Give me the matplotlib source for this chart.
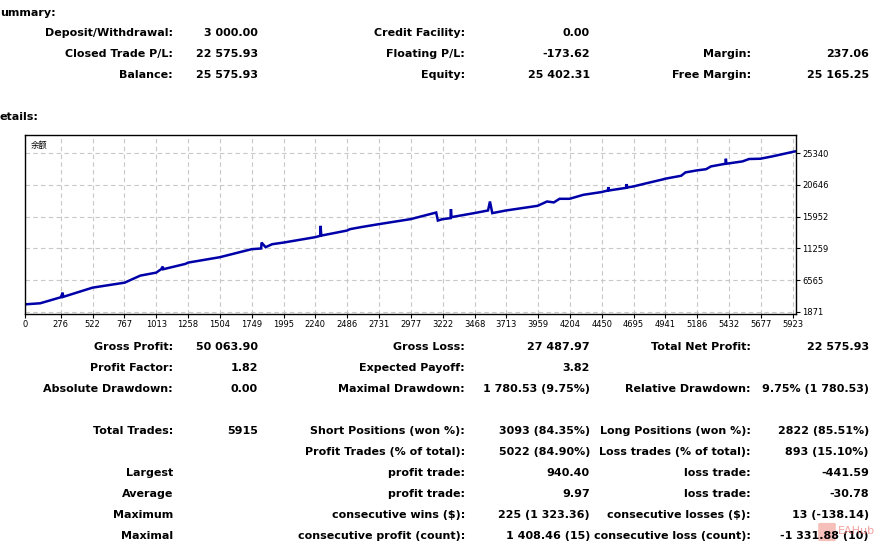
import matplotlib
matplotlib.use("Agg")
import matplotlib.pyplot as plt
from matplotlib.patches import FancyBboxPatch

W, H = 895, 544

# ── Report values ─────────────────────────────────────────────────────────────
summary_rows = [
    ["Deposit/Withdrawal:", "3 000.00", "Credit Facility:", "0.00", "", ""],
    ["Closed Trade P/L:", "22 575.93", "Floating P/L:", "-173.62", "Margin:", "237.06"],
    ["Balance:", "25 575.93", "Equity:", "25 402.31", "Free Margin:", "25 165.25"],
]
summary_y = [33, 54, 75]

detail_rows = [
    ["Gross Profit:", "50 063.90", "Gross Loss:", "27 487.97", "Total Net Profit:", "22 575.93"],
    ["Profit Factor:", "1.82", "Expected Payoff:", "3.82", "", ""],
    ["Absolute Drawdown:", "0.00", "Maximal Drawdown:", "1 780.53 (9.75%)",
     "Relative Drawdown:", "9.75% (1 780.53)"],
    ["Total Trades:", "5915", "Short Positions (won %):", "3093 (84.35%)",
     "Long Positions (won %):", "2822 (85.51%)"],
    ["", "", "Profit Trades (% of total):", "5022 (84.90%)",
     "Loss trades (% of total):", "893 (15.10%)"],
    ["Largest", "", "profit trade:", "940.40", "loss trade:", "-441.59"],
    ["Average", "", "profit trade:", "9.97", "loss trade:", "-30.78"],
    ["Maximum", "", "consecutive wins ($):", "225 (1 323.36)",
     "consecutive losses ($):", "13 (-138.14)"],
    ["Maximal", "", "consecutive profit (count):", "1 408.46 (15)",
     "consecutive loss (count):", "-1 331.88 (10)"],
]
detail_y = [347, 368, 389, 431, 452, 473, 494, 515, 536]

# balance curve (trade number, balance)
trades = [0, 117, 276, 291, 294, 521, 769, 889, 1012, 1050, 1063, 1066, 1237, 1258,
          1503, 1748, 1822, 1825, 1856, 1907, 1994, 2239, 2277, 2280, 2286, 2484,
          2507, 2592, 2730, 2975, 3172, 3185, 3222, 3283, 3286, 3290, 3465, 3572,
          3587, 3605, 3710, 3955, 4027, 4080, 4124, 4201, 4308, 4446, 4497, 4500,
          4504, 4638, 4641, 4645, 4692, 4820, 4922, 4937, 5062, 5095, 5182, 5254,
          5292, 5404, 5407, 5411, 5535, 5586, 5673, 5765, 5939]
balance = [3000, 3157, 4045, 4725, 4100, 5465, 6204, 7239, 7683, 8185, 8570, 8185, 8969, 9162,
           9960, 11143, 11250, 12119, 11439, 11882, 12119, 12917, 13110, 14589, 13150, 13894,
           14100, 14400, 14840, 15580, 16556, 15373, 15580, 15727, 17058, 15875, 16467, 16856,
           18183, 16467, 16856, 17546, 18183, 18050, 18582, 18582, 19173, 19572, 19808, 20311,
           19808, 20200, 20755, 20250, 20400, 20992, 21450, 21539, 21983, 22476, 22772, 22950,
           23363, 23758, 24497, 23758, 24102, 24457, 24497, 24842, 25576]

x_ticks = [0, 276, 522, 767, 1013, 1258, 1504, 1749, 1995, 2240, 2486, 2731, 2977,
           3222, 3468, 3713, 3959, 4204, 4450, 4695, 4941, 5186, 5432, 5677, 5923]
y_ticks = [1871, 6565, 11259, 15952, 20646, 25340]

# ── Figure ────────────────────────────────────────────────────────────────────
fig = plt.figure(figsize=(W / 100, H / 100), dpi=100)
fig.patch.set_facecolor("white")


def put(x, y, s, ha="right", size=8, weight="bold", **kw):
    fig.text(x / W, 1 - y / H, s, ha=ha, va="center", fontsize=size,
             fontweight=weight, family="DejaVu Sans", color="#000000", **kw)


def table(rows, ys):
    right_edges = [173, 258, 465, 590, 751, 869]
    for row, y in zip(rows, ys):
        for s, xr in zip(row, right_edges):
            if s:
                put(xr, y, s)


# section headers are cut off at the left edge of the screenshot
put(0, 13, "ummary:", ha="left")
table(summary_rows, summary_y)
put(0, 117, "etails:", ha="left")
table(detail_rows, detail_y)

# chart box in pixels
L, R, T, B = 25, 796, 135, 314
ax = fig.add_axes([L / W, 1 - B / H, (R - L) / W, (B - T) / H])
ax.plot(trades, balance, color="#0000a8", linewidth=1.8, solid_joinstyle="miter")
ax.set_xlim(0, 5948)
ax.set_ylim(1575, 28000)
ax.set_xticks(x_ticks)
ax.set_xticklabels([str(v) for v in x_ticks])
ax.set_yticks(y_ticks)
ax.set_yticklabels([str(v) for v in y_ticks])
ax.yaxis.tick_right()
ax.tick_params(axis="both", labelsize=6, length=3, width=0.8, pad=1.5,
               colors="#000000")
ax.grid(True, color="#c8c8c8", linestyle=(0, (4, 3)), linewidth=0.8)
for sp in ax.spines.values():
    sp.set_color("#000000")
    sp.set_linewidth(1.0)
ax.text(0.008, 0.94, "余额", transform=ax.transAxes, fontsize=6,
        family=["Noto Sans CJK SC", "DejaVu Sans"], ha="left", va="center")

# watermark
fig.patches.append(FancyBboxPatch((820 / W, 1 - 540 / H), 14 / W, 16 / H,
                                  boxstyle="round,pad=0.002", transform=fig.transFigure,
                                  facecolor="#f28b82", edgecolor="none", alpha=0.55))
fig.text(838 / W, 1 - 531 / H, "EAHub", fontsize=8, color="#f07878", alpha=0.7,
         ha="left", va="center", family="DejaVu Sans")

fig.savefig("out.png", dpi=100)
